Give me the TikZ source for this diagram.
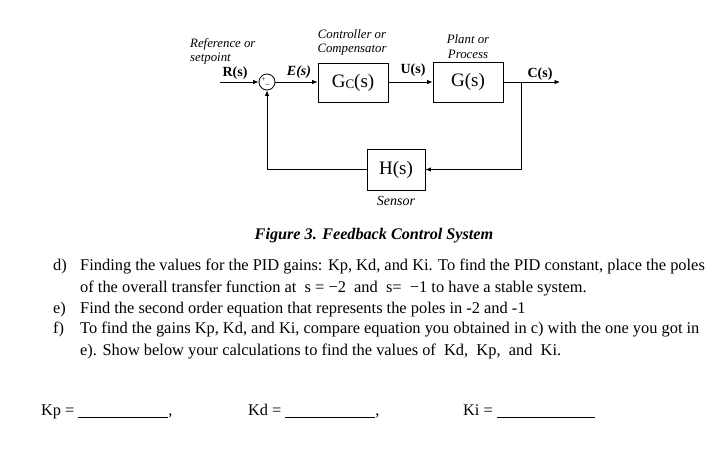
\documentclass[tikz,border=0pt]{standalone}
\usepackage{fontspec}
\setmainfont{Liberation Serif}
\usetikzlibrary{arrows.meta}
\begin{document}
\begin{tikzpicture}[x=1pt,y=-1pt,
  blk/.style={draw,line width=0.8pt,inner sep=0pt},
  conn/.style={line width=0.8pt,-{Latex[length=5.5pt,width=4.5pt]}},
  lab/.style={font=\fontsize{12.8}{14}\selectfont\itshape,inner sep=0pt,anchor=base},
  sig/.style={font=\fontsize{14}{15}\selectfont\bfseries,inner sep=0pt,anchor=base},
  inbox/.style={font=\fontsize{19}{21}\selectfont},
  body/.style={font=\fontsize{16.4}{18}\selectfont,inner sep=0pt,anchor=base west},
  blank/.style={font=\fontsize{16.3}{18}\selectfont,inner sep=0pt,anchor=base west}]
\useasboundingbox (0,0) rectangle (724,456);
\fill[white] (0,0) rectangle (724,456);
% blocks
\node[blk,circle,minimum size=16pt] (sum) at (267,82) {};
\node[font=\fontsize{7}{7}\selectfont,inner sep=0pt] (plus) at (263.5,79.5) {+};
\node[font=\fontsize{8}{8}\selectfont,inner sep=0pt] (minus) at (267.5,86.5) {−};
\node[blk,inbox,minimum width=70pt,minimum height=39pt] (gc) at (353,82.5) {G\raisebox{-1.5pt}{\fontsize{13}{14}\selectfont C}(s)};
\node[blk,inbox,minimum width=70pt,minimum height=40pt] (g) at (468,82) {G(s)};
\node[blk,inbox,minimum width=58pt,minimum height=41pt] (h) at (396,169.5) {H(s)};
% connectors
\coordinate (rin) at (220,82);
\coordinate (cout) at (560,82);
\coordinate (br) at (521,82);
\draw[conn] (rin) -- (sum.west);
\draw[conn] (sum.east) -- (sum.east -| gc.west);
\draw[conn] (gc.east |- sum.east) -- (g.west);
\draw[conn] (g.east) -- (cout);
\draw[conn] (br) |- (h.east);
\draw[conn] (h.west) -| (sum.south);
% labels
\node[lab,anchor=base west] (ref1) at (190,47) {Reference or};
\node[lab,anchor=base west] (ref2) at (190,61) {setpoint};
\node[lab] (ctl1) at (352,38) {Controller or};
\node[lab] (ctl2) at (352,52) {Compensator};
\node[lab] (pl1) at (468,43) {Plant or};
\node[lab] (pl2) at (468,58) {Process};
\node[lab,font=\fontsize{14}{15}\selectfont\itshape] (sens) at (396,205) {Sensor};
\node[sig] (rs) at (235,76) {R(s)};
\node[sig,font=\fontsize{14}{15}\selectfont\bfseries\itshape] (es) at (299,75) {E(s)};
\node[sig] (us) at (413,73) {U(s)};
\node[sig] (cs) at (540,77) {C(s)};
% caption
\node[font=\fontsize{16.2}{18}\selectfont\bfseries\itshape,inner sep=0pt,anchor=base] (cap) at (374,239) {Figure 3. Feedback Control System};
% body text
\node[body] (dl) at (53,270) {d)};
\node[body] (d1) at (80,270) {Finding the values for the PID gains: Kp, Kd, and Ki. To find the PID constant, place the poles};
\node[body] (d2) at (80,292) {of the overall transfer function at\ \ s = −2\ \ and\ \ s=\ \ −1 to have a stable system.};
\node[body] (el) at (53,313) {e)};
\node[body] (e1) at (80,313) {Find the second order equation that represents the poles in -2 and -1};
\node[body] (fl) at (53,333) {f)};
\node[body] (f1) at (80,333) {To find the gains Kp, Kd, and Ki, compare equation you obtained in c) with the one you got in};
\node[body] (f2) at (80,355) {e). Show below your calculations to find the values of\ \ Kd,\ \ Kp,\ \ and\ \ Ki.};
% answer blanks
\node[blank] (kp) at (41,415) {Kp = \rule[-2.5pt]{90pt}{0.7pt},};
\node[blank] (kd) at (248,415) {Kd = \rule[-2.5pt]{90pt}{0.7pt},};
\node[blank] (ki) at (463,415) {Ki = \rule[-2.5pt]{98pt}{0.7pt}};
\end{tikzpicture}
\end{document}
